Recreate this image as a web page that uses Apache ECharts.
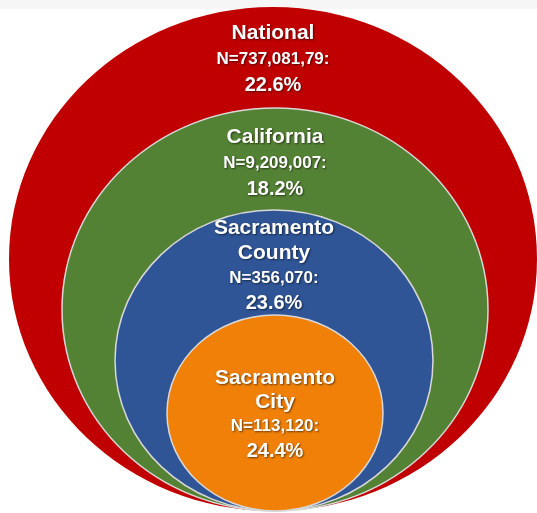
<!DOCTYPE html>
<html>
<head>
<meta charset="utf-8">
<style>
    html, body { margin: 0; padding: 0; background: #ffffff; }
    #chart { width: 537px; height: 513px; }
</style>
<script src="https://cdn.jsdelivr.net/npm/echarts@6/dist/echarts.min.js"></script>
</head>
<body>
<div id="chart"></div>
<script>
/**
 * Nested circles: share of population by area
 */
var regions = ['National', 'California', 'Sacramento\nCounty', 'Sacramento\nCity'];
var counts = ['737,081,79', '9,209,007', '356,070', '113,120'];
var percents = [22.6, 18.2, 23.6, 24.4];

(function () {
    'use strict';

    // layout of each ring in axis units (x right, y down), kept apart from the data
    var rings = [
        { cx: 273, bottom: 511, rx: 264, ry: 252, textTop: 20, lh: 26, color: '#C00000' },
        { cx: 275, bottom: 511, rx: 213, ry: 201.5, textTop: 124, lh: 26, color: '#548235' },
        { cx: 274, bottom: 511, rx: 159, ry: 150.5, textTop: 215.5, lh: 25, color: '#2F5597' },
        { cx: 275, bottom: 511, rx: 108, ry: 98, textTop: 366, lh: 24, color: '#F08008' }
    ];

    var myChart = echarts.init(document.getElementById('chart'));

    function labelText(i) {
        return '{name|' + regions[i].split('\n').join('}\n{name|') + '}\n' +
            '{n|N=' + counts[i] + ':}\n' +
            '{pct|' + percents[i].toFixed(1) + '%}';
    }

    function renderItem(params, api) {
        var i = api.value(0);
        var ring = rings[i];
        var center = api.coord([ring.cx, ring.bottom - ring.ry]);
        var size = api.size([ring.rx, ring.ry]);
        var top = api.coord([ring.cx, ring.textTop]);
        return {
            type: 'group',
            children: [{
                type: 'ellipse',
                shape: { cx: center[0], cy: center[1], rx: size[0], ry: size[1] },
                style: {
                    fill: ring.color,
                    stroke: i === 0 ? ring.color : '#d8d8d8',
                    lineWidth: i === 0 ? 0 : 1.5
                }
            }, {
                type: 'text',
                x: top[0],
                y: top[1],
                style: {
                    text: labelText(i),
                    align: 'center',
                    verticalAlign: 'top',
                    fill: '#ffffff',
                    fontFamily: '"Liberation Sans", Arial, sans-serif',
                    fontWeight: 'bold',
                    textShadowColor: 'rgba(0,0,0,0.55)',
                    textShadowBlur: 2,
                    textShadowOffsetX: 1,
                    textShadowOffsetY: 1,
                    rich: {
                        name: { fontSize: 21, lineHeight: ring.lh, fontWeight: 'bold', fill: '#ffffff' },
                        n: { fontSize: 17, lineHeight: ring.lh, fontWeight: 'bold', fill: '#ffffff' },
                        pct: { fontSize: 20, lineHeight: ring.lh + (i === 3 ? 3 : 0), fontWeight: 'bold', fill: '#ffffff' }
                    }
                }
            }]
        };
    }

    myChart.setOption({
        animation: false,
        graphic: [{
            type: 'rect',
            shape: { x: 0, y: 0, width: 537, height: 9 },
            style: { fill: '#f6f6f6' },
            z: -1
        }],
        grid: { left: 0, right: 0, top: 0, bottom: 0 },
        xAxis: { type: 'value', min: 0, max: 537, show: false },
        yAxis: { type: 'value', min: 0, max: 513, inverse: true, show: false },
        series: [{
            type: 'custom',
            renderItem: renderItem,
            clip: true,
            data: regions.map(function (r, i) { return [i]; })
        }]
    });
})();
</script>
</body>
</html>
